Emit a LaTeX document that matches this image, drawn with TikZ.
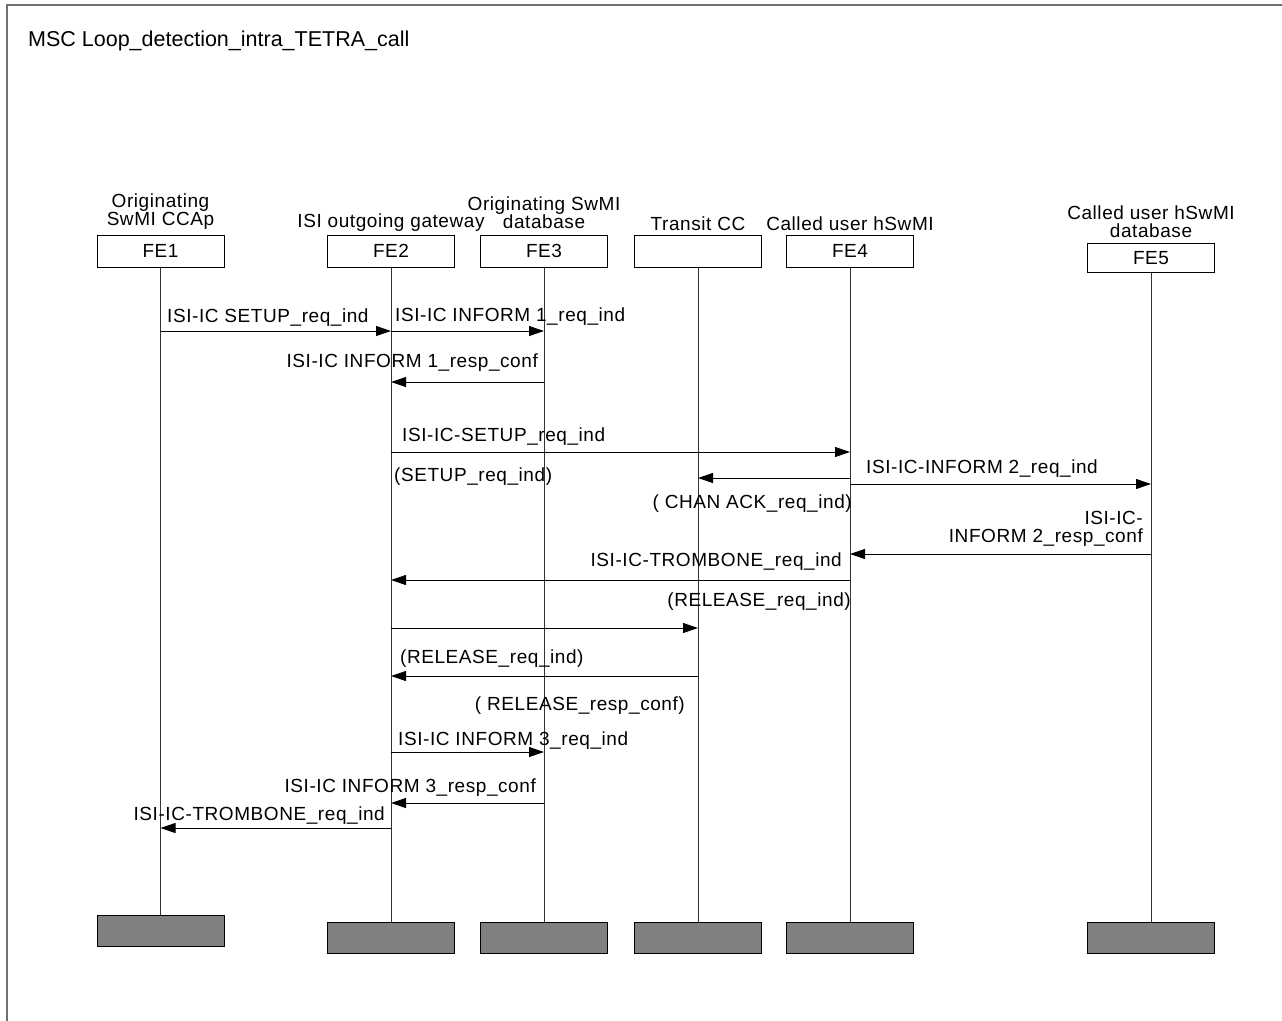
\documentclass[tikz,border=0pt]{standalone}
\usepackage{fontspec}
\setmainfont{Liberation Sans}
\usetikzlibrary{arrows.meta}
\newfontfamily\lblfam[LetterSpace=3]{Liberation Sans}
\newcommand{\lblfont}{\lblfam\fontsize{19}{18}\selectfont}
\newcommand{\ttlfont}{\fontsize{21.5}{24}\selectfont}
\definecolor{tailgray}{HTML}{808080}
\definecolor{framegray}{HTML}{707070}
\tikzset{
  msg/.style={-{Triangle[length=15pt,width=10pt]}, line width=0.9pt},
  lbl/.style={font=\lblfont, inner sep=0pt},
  headbox/.style={draw, line width=0.8pt, minimum width=127pt, minimum height=32pt, inner sep=0pt, font=\lblfont},
  tailbox/.style={draw, line width=0.8pt, fill=tailgray, minimum width=127pt, minimum height=31pt, inner sep=0pt},
  lifeline/.style={line width=0.9pt, draw=black!80},
  hlabel/.style={font=\lblfont, inner sep=0pt, align=center}
}
\begin{document}
\begin{tikzpicture}[x=1pt,y=-1pt]
\useasboundingbox (0,0) rectangle (1282,1020);
\draw[framegray, line width=1.6pt] (1290,5) -- (7,5) -- (7,1030);
\node[font=\ttlfont, anchor=base west, inner sep=0pt] (title) at (28,46) {MSC Loop\_detection\_intra\_TETRA\_call};

% heads
\node[headbox] (h1) at (160.5,251) {FE1};
\node[headbox] (h2) at (391,251) {FE2};
\node[headbox] (h3) at (544,251) {FE3};
\node[headbox] (h4) at (698,251) {};
\node[headbox] (h5) at (850,251) {FE4};
\node[headbox, minimum height=29pt] (h6) at (1151,258) {FE5};

% head labels
\node[hlabel] (l1) at (160.5,212) {Originating\\SwMI CCAp};
\node[hlabel] (l2) at (391,223) {ISI outgoing gateway};
\node[hlabel] (l3) at (544,213) {Originating SwMI\\database};
\node[hlabel] (l4) at (698,224) {Transit CC};
\node[hlabel] (l5) at (850,224) {Called user hSwMI};
\node[hlabel] (l6) at (1151,222) {Called user hSwMI\\database};

% tails
\node[tailbox] (t1) at (160.5,931) {};
\node[tailbox] (t2) at (391,937.5) {};
\node[tailbox] (t3) at (544,937.5) {};
\node[tailbox] (t4) at (698,937.5) {};
\node[tailbox] (t5) at (850,937.5) {};
\node[tailbox] (t6) at (1151,937.5) {};

% lifelines
\foreach \i in {1,...,6} {\draw[lifeline] (h\i.south) -- (t\i.north);}

% messages
\draw[msg] (h1 |- 0,331) -- (h2 |- 0,331);
\node[lbl, anchor=base west] (m1) at (167,322) {ISI-IC SETUP\_req\_ind};
\draw[msg] (h2 |- 0,331) -- (h3 |- 0,331);
\node[lbl, anchor=base west] (m2) at (395,321) {ISI-IC INFORM 1\_req\_ind};
\draw[msg] (h3 |- 0,382) -- (h2 |- 0,382);
\node[lbl, anchor=base east] (m3) at (538,367) {ISI-IC INFORM 1\_resp\_conf};

\draw[msg] (h2 |- 0,452) -- (h5 |- 0,452);
\node[lbl, anchor=base west] (m4) at (402,441) {ISI-IC-SETUP\_req\_ind};
\node[lbl, anchor=base west] (m4b) at (394,481) {(SETUP\_req\_ind)};

\draw[msg] (h5 |- 0,478) -- (h4 |- 0,478);
\node[lbl, anchor=base east] (m5) at (852,508) {( CHAN ACK\_req\_ind)};

\draw[msg] (h5 |- 0,484) -- (h6 |- 0,484);
\node[lbl, anchor=base west] (m6) at (866,473) {ISI-IC-INFORM 2\_req\_ind};

\draw[msg] (h6 |- 0,554) -- (h5 |- 0,554);
\node[lbl, anchor=south east, align=right] (m7) at (1143,547) {ISI-IC-\\INFORM 2\_resp\_conf};

\draw[msg] (h5 |- 0,580) -- (h2 |- 0,580);
\node[lbl, anchor=base east] (m8) at (842,566) {ISI-IC-TROMBONE\_req\_ind};
\node[lbl, anchor=base east] (m8b) at (851,606) {(RELEASE\_req\_ind)};

\draw[msg] (h2 |- 0,628) -- (h4 |- 0,628);

\draw[msg] (h4 |- 0,676) -- (h2 |- 0,676);
\node[lbl, anchor=base west] (m10) at (400,663) {(RELEASE\_req\_ind)};
\node[lbl, anchor=base east] (m10b) at (685,710) {( RELEASE\_resp\_conf)};

\draw[msg] (h2 |- 0,752) -- (h3 |- 0,752);
\node[lbl, anchor=base west] (m11) at (398,745) {ISI-IC INFORM 3\_req\_ind};
\draw[msg] (h3 |- 0,803) -- (h2 |- 0,803);
\node[lbl, anchor=base east] (m12) at (536,792) {ISI-IC INFORM 3\_resp\_conf};
\draw[msg] (h2 |- 0,828) -- (h1 |- 0,828);
\node[lbl, anchor=base east] (m13) at (385,820) {ISI-IC-TROMBONE\_req\_ind};
\end{tikzpicture}
\end{document}
